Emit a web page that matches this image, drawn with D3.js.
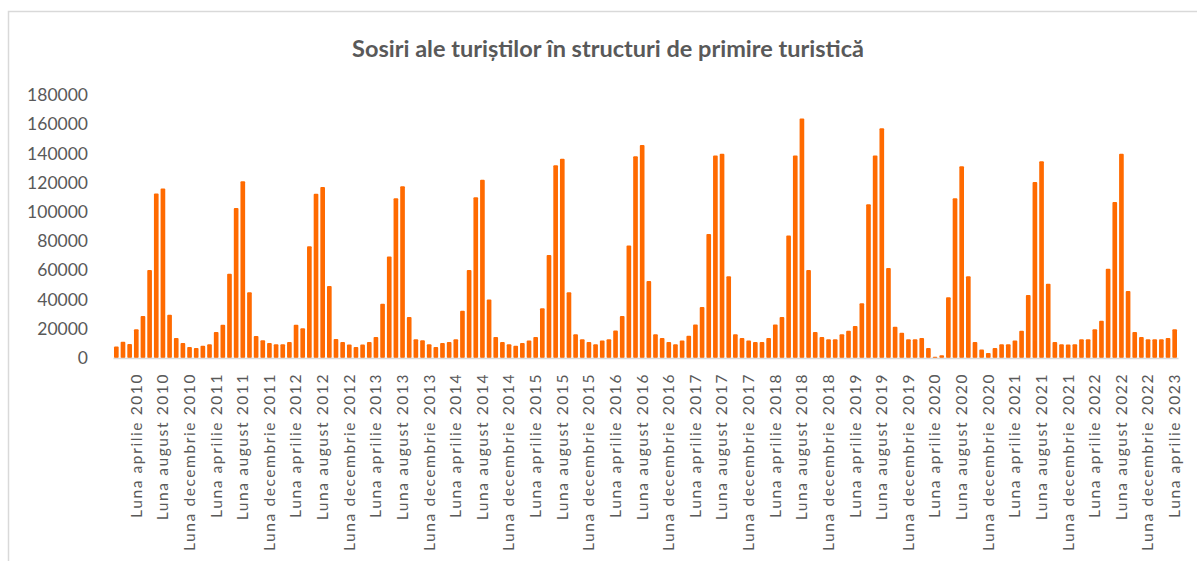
<!DOCTYPE html>
<html>
<head>
<meta charset="utf-8">
<script src="https://cdn.jsdelivr.net/npm/d3@7"></script>
<style>
  body { margin: 0; background: #fff; }
  svg { display: block; font-family: Lato, "Open Sans", sans-serif; }
</style>
</head>
<body>
<div class="chart-container"></div>
<script>
const width = 1197, height = 561;

// luni romanesti, de la ianuarie 2010 pana la aprilie 2023
const monthNames = ["ianuarie", "februarie", "martie", "aprilie", "mai", "iunie",
  "iulie", "august", "septembrie", "octombrie", "noiembrie", "decembrie"];
const years = [2010, 2011, 2012, 2013, 2014, 2015, 2016, 2017, 2018, 2019, 2020, 2021, 2022, 2023];

// sosiri lunare
const arrivals2010 = [7800, 11200, 9600, 19600, 28700, 60200, 112600, 116000, 29600, 13700, 10300, 7500];
const arrivals2011 = [6800, 8400, 9400, 17800, 22800, 57700, 102600, 121000, 45000, 15000, 12100, 10300];
const arrivals2012 = [9400, 9400, 11000, 22800, 20300, 76400, 112400, 117000, 49200, 13000, 11000, 9300];
const arrivals2013 = [7500, 9300, 11000, 14400, 37200, 69500, 109400, 117600, 28000, 12800, 12100, 9400];
const arrivals2014 = [7500, 10300, 11000, 12800, 32400, 60200, 110000, 122000, 40000, 14400, 11000, 9400];
const arrivals2015 = [8400, 10300, 11900, 14400, 34000, 70500, 132000, 136300, 45000, 16200, 12800, 11000];
const arrivals2016 = [9400, 11900, 12800, 18900, 28700, 77000, 138000, 145700, 52700, 16200, 13700, 11000];
const arrivals2017 = [9400, 11900, 15300, 23000, 34900, 84800, 138600, 139800, 55900, 16200, 13700, 11900];
const arrivals2018 = [11000, 11000, 13700, 23000, 28000, 83900, 138600, 164000, 60200, 17800, 14400, 12800];
const arrivals2019 = [12800, 16200, 18700, 21900, 37400, 105300, 138600, 157300, 61600, 21400, 17300, 12800];
const arrivals2020 = [12800, 13700, 6800, 900, 1800, 41500, 109400, 131300, 55900, 11000, 5900, 3400];
const arrivals2021 = [6800, 9400, 9400, 11900, 18700, 43100, 120400, 134700, 50800, 11000, 9400, 9300];
const arrivals2022 = [9400, 12800, 12800, 19600, 25500, 61000, 106700, 139800, 45800, 17800, 14400, 12800];
const arrivals2023 = [12800, 12800, 13700, 19600];

const yTicks = [0, 20000, 40000, 60000, 80000, 100000, 120000, 140000, 160000, 180000];

const series = [arrivals2010, arrivals2011, arrivals2012, arrivals2013, arrivals2014, arrivals2015,
  arrivals2016, arrivals2017, arrivals2018, arrivals2019, arrivals2020, arrivals2021,
  arrivals2022, arrivals2023];

var data = [];
series.forEach((vals, yi) => {
  vals.forEach((v, mi) => {
    data.push({ label: "Luna " + monthNames[mi] + " " + years[yi], value: v, idx: data.length });
  });
});

var margin = { top: 95, right: 16, bottom: 203, left: 113 };

var svg = d3.select(".chart-container")
  .append("svg")
  .attr("width", width)
  .attr("height", height);

// chenarul graficului
svg.append("rect")
  .attr("x", 8.5).attr("y", 11.5)
  .attr("width", width + 10).attr("height", height)
  .attr("fill", "#fff")
  .attr("stroke", "#d9d9d9")
  .attr("stroke-width", 1.5);

svg.append("text")
  .attr("x", 608)
  .attr("y", 57)
  .attr("text-anchor", "middle")
  .attr("fill", "#595959")
  .style("font-size", "23.5px")
  .style("font-weight", "bold")
  .text("Sosiri ale turiștilor în structuri de primire turistică");

var x = d3.scaleBand()
  .domain(data.map(d => d.label))
  .range([margin.left, width - margin.right - 3])
  .paddingInner(0.3)
  .paddingOuter(0.15);

var y = d3.scaleLinear()
  .domain([0, 180000])
  .range([height - margin.bottom, margin.top]);

// axa y: doar etichete
var yAxis = svg.append("g")
  .attr("transform", "translate(88,0)")
  .call(d3.axisLeft(y).tickValues(yTicks).tickSize(0).tickPadding(0).tickFormat(d3.format("d")));
yAxis.select(".domain").remove();
yAxis.selectAll("text")
  .attr("fill", "#595959")
  .style("font-size", "17.5px")
  .style("font-family", "Lato, sans-serif");

// bare
svg.append("g")
  .selectAll("rect")
  .data(data)
  .enter()
  .append("rect")
  .attr("x", d => x(d.label))
  .attr("y", d => y(d.value))
  .attr("width", x.bandwidth())
  .attr("height", d => y(0) - y(d.value))
  .attr("rx", 1)
  .attr("fill", "#ff6a00");

// axa x
var xAxis = svg.append("g")
  .attr("transform", "translate(0," + (height - margin.bottom) + ")")
  .call(d3.axisBottom(x)
    .tickValues(data.filter(d => d.idx % 4 === 3).map(d => d.label))
    .tickSize(0)
    .tickPadding(0));
xAxis.select(".domain")
  .attr("stroke", "#d9d9d9")
  .attr("stroke-width", 1.5);
xAxis.selectAll("text")
  .attr("transform", "rotate(-90)")
  .attr("text-anchor", "end")
  .attr("x", -15)
  .attr("y", 0)
  .attr("dy", "0.35em")
  .attr("fill", "#595959")
  .style("font-size", "15.5px")
  .style("letter-spacing", "1.6px")
  .style("font-family", "Lato, sans-serif");
</script>
</body>
</html>
